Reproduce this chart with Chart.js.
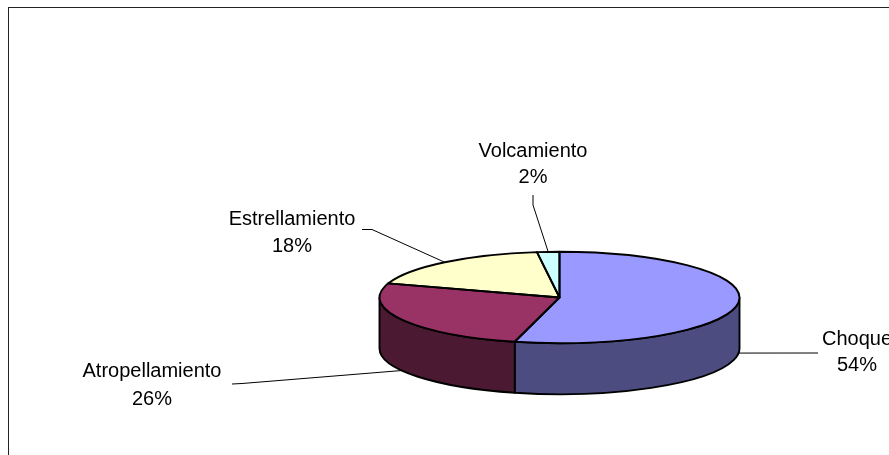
<!DOCTYPE html>
<html><head><meta charset="utf-8">
<script src="https://cdn.jsdelivr.net/npm/chart.js@4.4.1/dist/chart.umd.min.js"></script>
<style>
html,body{margin:0;padding:0;background:#fff;}
#wrap{position:relative;width:889px;height:455px;overflow:hidden;background:#fff;}
#frame{position:absolute;left:8px;top:7px;width:1000px;height:1000px;border-top:1px solid #222;border-left:1px solid #222;}
canvas{position:absolute;left:0;top:0;}
</style></head><body>
<div id="wrap"><div id="frame"></div><canvas id="c" width="889" height="455"></canvas></div>
<script>
// ---- data ----
const categories = ['Choque', 'Atropellamiento', 'Estrellamiento', 'Volcamiento'];
const values = [54, 26, 18, 2];
const percentLabels = ['54%', '26%', '18%', '2%'];

// ---- styles ----
const topColors = ['#9999FF', '#993366', '#FFFFCC', '#CCFFFF'];
const sideColors = ['#4C4C80', '#4C1933', '#80806A', '#6A8080'];

// ---- layout ----
const PIE = { radius: 180, squash: 0.254, depth: 51 };
const LABEL_FONT = '20px "Liberation Sans", Arial, sans-serif';
const LABEL_LAYOUT = [
  { x: 857, b1: 345, b2: 371, leader: [[818, 353]], anchorAngle: 0.1, onBottom: true },
  { x: 152, b1: 377, b2: 405, leader: [[232, 384], [242, 383.5]], anchorAngle: null, onBottom: true },
  { x: 292, b1: 225, b2: 252, leader: [[362, 229.5], [372, 229.5]], anchorAngle: null, onBottom: false },
  { x: 533, b1: 157, b2: 183, leader: [[533, 195], [533, 205]], anchorAngle: null, onBottom: false }
];

function sidePath(ctx, cx, cy, rx, ry, d, a, b) {
  ctx.beginPath();
  ctx.ellipse(cx, cy, rx, ry, 0, a, b, false);
  ctx.lineTo(cx + rx * Math.cos(b), cy + d + ry * Math.sin(b));
  ctx.ellipse(cx, cy + d, rx, ry, 0, b, a, true);
  ctx.closePath();
}

const pie3d = {
  id: 'pie3d',
  beforeDatasetsDraw(chart) {
    const ctx = chart.ctx;
    const arcs = chart.getDatasetMeta(0).data;
    const cx = arcs[0].x, cy = arcs[0].y, rx = arcs[0].outerRadius, ry = rx * PIE.squash, d = PIE.depth;
    ctx.save();
    ctx.lineWidth = 1.9; ctx.strokeStyle = '#000'; ctx.lineJoin = 'round';
    arcs.forEach((arc, i) => {
      [0, 2 * Math.PI, -2 * Math.PI].forEach(off => {
        const a = Math.max(arc.startAngle + off, 0);
        const b = Math.min(arc.endAngle + off, Math.PI);
        if (b > a + 1e-6) {
          sidePath(ctx, cx, cy, rx, ry, d, a, b);
          ctx.fillStyle = sideColors[i];
          ctx.fill();
          ctx.stroke();
        }
      });
    });
    ctx.restore();
    // squash the library's own top-face drawing into an ellipse
    ctx.save();
    ctx.translate(0, cy);
    ctx.scale(1, PIE.squash);
    ctx.translate(0, -cy);
  },
  afterDatasetsDraw(chart) {
    const ctx = chart.ctx;
    ctx.restore();
    const arcs = chart.getDatasetMeta(0).data;
    const cx = arcs[0].x, cy = arcs[0].y, rx = arcs[0].outerRadius, ry = rx * PIE.squash, d = PIE.depth;
    ctx.save();
    ctx.lineWidth = 1.9; ctx.strokeStyle = '#000'; ctx.lineJoin = 'round';
    arcs.forEach(arc => {
      ctx.beginPath();
      ctx.moveTo(cx, cy);
      ctx.ellipse(cx, cy, rx, ry, 0, arc.startAngle, arc.endAngle, false);
      ctx.closePath();
      ctx.stroke();
    });
    ctx.restore();

    // labels with leader lines
    ctx.save();
    ctx.font = LABEL_FONT;
    ctx.fillStyle = '#000';
    ctx.textAlign = 'center';
    ctx.textBaseline = 'alphabetic';
    arcs.forEach((arc, i) => {
      const L = LABEL_LAYOUT[i];
      const ang = L.anchorAngle !== null ? L.anchorAngle : (arc.startAngle + arc.endAngle) / 2;
      const ax = cx + rx * Math.cos(ang);
      const ay = cy + (L.onBottom ? d : 0) + ry * Math.sin(ang);
      ctx.beginPath();
      ctx.lineWidth = 1;
      ctx.strokeStyle = '#000';
      ctx.moveTo(L.leader[0][0], L.leader[0][1]);
      for (let k = 1; k < L.leader.length; k++) ctx.lineTo(L.leader[k][0], L.leader[k][1]);
      ctx.lineTo(ax, ay);
      ctx.stroke();
      ctx.fillText(categories[i], L.x, L.b1);
      ctx.fillText(percentLabels[i], L.x, L.b2);
    });
    ctx.restore();
  }
};

new Chart(document.getElementById('c'), {
  type: 'pie',
  data: {
    labels: categories,
    datasets: [{
      data: values,
      backgroundColor: topColors,
      borderWidth: 0,
      clip: false
    }]
  },
  options: {
    responsive: false,
    animation: false,
    events: [],
    radius: PIE.radius,
    layout: { padding: { left: 230, right: 0, top: 140, bottom: 0 } },
    plugins: { legend: { display: false }, tooltip: { enabled: false } }
  },
  plugins: [pie3d]
});
</script>
</body></html>
